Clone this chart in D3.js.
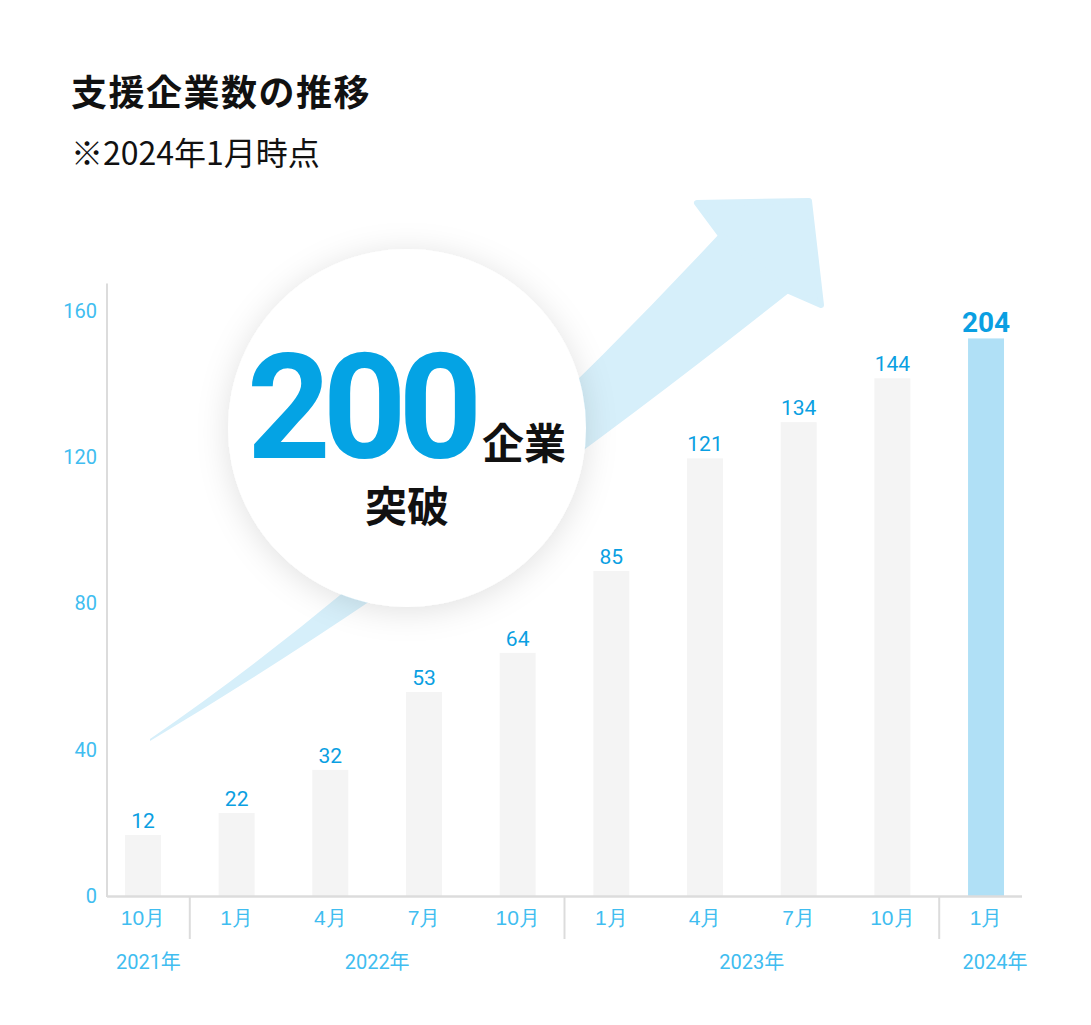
<!DOCTYPE html>
<html lang="ja">
<head>
<meta charset="utf-8">
<script src="https://cdn.jsdelivr.net/npm/d3@7"></script>
<style>
body { margin: 0; background: #fff; }
svg { display: block; font-family: Roboto, "Noto Sans CJK JP", sans-serif; }
</style>
</head>
<body>
<svg></svg>
<script>
// data
var months = ["10月", "1月", "4月", "7月", "10月", "1月", "4月", "7月", "10月", "1月"];
var counts = [12, 22, 32, 53, 64, 85, 121, 134, 144, 204];
// bar lengths as drawn, in axis units (the picture does not draw them to scale)
var barLengths = [16.7, 22.7, 34.5, 55.8, 66.5, 88.9, 119.7, 129.6, 141.6, 152.5];
var yTicks = [0, 40, 80, 120, 160];
var years = ["2021年", "2022年", "2023年", "2024年"];
var yearFirst = [0, 1, 5, 9];   // index of first month of each year

var draw = function() {

	var width = 1091,
		height = 1025,
		left = 107,
		right = 1022,
		bottom = 896,
		top = 311;

	var svg = d3.select("svg")
		.attr("width", width)
		.attr("height", height);

	var defs = svg.append("defs");
	var f = defs.append("filter")
		.attr("id", "shadow")
		.attr("x", "-30%").attr("y", "-30%")
		.attr("width", "160%").attr("height", "160%");
	f.append("feDropShadow")
		.attr("dx", 0).attr("dy", 4)
		.attr("stdDeviation", 16)
		.attr("flood-color", "#000")
		.attr("flood-opacity", 0.12);

	// title
	svg.append("text")
		.attr("x", 71).attr("y", 106)
		.attr("font-family", "'Noto Sans CJK JP'")
		.attr("font-weight", 700)
		.attr("font-size", 36)
		.attr("letter-spacing", 1.5)
		.attr("fill", "#111")
		.text("支援企業数の推移");

	svg.append("text")
		.attr("x", 71).attr("y", 165)
		.attr("font-family", "'Noto Sans CJK JP'")
		.attr("font-size", 32)
		.attr("fill", "#111")
		.text("※2024年1月時点");

	// scales
	var x = d3.scaleBand()
		.domain(d3.range(months.length))
		.range([left, right])
		.paddingInner(0.616)
		.paddingOuter(0.192);

	var y = d3.scaleLinear()
		.domain([0, 160])
		.range([bottom, top]);

	var cx = function(i) { return x(i) + x.bandwidth() / 2; };

	// decorative arrow behind the badge
	var g = svg.append("g").attr("fill", "#d6effa");
	g.append("path")
		.attr("d", "M150,739 Q424,551 720,233 L790,292 Q447,564 150,741 Z");
	g.append("path")
		.attr("d", "M720,234 L697,203 L809,201 L821,305 L789,291 Z")
		.attr("stroke", "#d6effa")
		.attr("stroke-width", 6)
		.attr("stroke-linejoin", "round");

	// badge
	svg.append("circle")
		.attr("cx", 407).attr("cy", 428).attr("r", 179)
		.attr("fill", "#fff")
		.attr("filter", "url(#shadow)");

	svg.append("text")
		.attr("x", 247).attr("y", 458)
		.attr("font-family", "Roboto")
		.attr("font-weight", 700)
		.attr("font-size", 146)
		.attr("letter-spacing", -8)
		.attr("fill", "#04a3e4")
		.text("200");

	svg.append("text")
		.attr("x", 482).attr("y", 459)
		.attr("font-family", "'Noto Sans CJK JP'")
		.attr("font-weight", 700)
		.attr("font-size", 42)
		.attr("fill", "#111")
		.text("企業");

	svg.append("text")
		.attr("x", 407).attr("y", 522)
		.attr("text-anchor", "middle")
		.attr("font-family", "'Noto Sans CJK JP'")
		.attr("font-weight", 700)
		.attr("font-size", 42)
		.attr("fill", "#111")
		.text("突破");

	// bars
	svg.selectAll(".bar")
		.data(barLengths)
		.enter()
		.append("rect")
		.attr("class", "bar")
		.attr("x", function(d, i) { return x(i); })
		.attr("y", function(d) { return y(d); })
		.attr("width", x.bandwidth())
		.attr("height", function(d) { return y(0) - y(d); })
		.attr("fill", function(d, i) { return i == barLengths.length - 1 ? "#b0e0f6" : "#f4f4f4"; });

	// value labels
	svg.selectAll(".val")
		.data(counts)
		.enter()
		.append("text")
		.attr("class", "val")
		.attr("x", function(d, i) { return cx(i); })
		.attr("y", function(d, i) { return y(barLengths[i]) - (i == counts.length - 1 ? 6 : 7); })
		.attr("text-anchor", "middle")
		.attr("font-size", function(d, i) { return i == counts.length - 1 ? 28 : 21; })
		.attr("font-weight", function(d, i) { return i == counts.length - 1 ? 700 : 400; })
		.attr("fill", "#0a9fe2")
		.text(function(d) { return d; });

	// y axis
	var yAxis = svg.append("g")
		.attr("transform", "translate(" + left + ",0)")
		.call(d3.axisLeft(y).tickValues(yTicks).tickSize(0).tickPadding(10));
	yAxis.select(".domain").remove();
	yAxis.selectAll("text")
		.attr("font-family", "Roboto")
		.attr("font-size", 20)
		.attr("fill", "#40bdf0");

	// x axis
	var xAxis = svg.append("g")
		.attr("transform", "translate(0," + bottom + ")")
		.call(d3.axisBottom(x).tickSize(0).tickPadding(14)
			.tickFormat(function(i) { return months[i]; }));
	xAxis.select(".domain").remove();
	xAxis.selectAll("text")
		.attr("font-size", 21)
		.attr("fill", "#40bdf0");

	// axis lines
	svg.append("line")
		.attr("x1", left).attr("x2", left)
		.attr("y1", y(167.5)).attr("y2", bottom + 1)
		.attr("stroke", "#dcdcdc").attr("stroke-width", 2);
	svg.append("line")
		.attr("x1", left).attr("x2", right)
		.attr("y1", bottom + 0.5).attr("y2", bottom + 0.5)
		.attr("stroke", "#dcdcdc").attr("stroke-width", 2.5);

	// year separators and labels
	var step = x.step();
	var bounds = yearFirst.map(function(i) { return i == 0 ? left : cx(i) - step / 2; });
	bounds.push(cx(months.length - 1) + step / 2 + 18);

	svg.selectAll(".sep")
		.data(bounds.slice(1, -1))
		.enter()
		.append("line")
		.attr("class", "sep")
		.attr("x1", function(d) { return d; })
		.attr("x2", function(d) { return d; })
		.attr("y1", bottom)
		.attr("y2", bottom + 43)
		.attr("stroke", "#dcdcdc").attr("stroke-width", 2);

	svg.selectAll(".year")
		.data(years)
		.enter()
		.append("text")
		.attr("class", "year")
		.attr("x", function(d, i) { return (bounds[i] + bounds[i + 1]) / 2; })
		.attr("y", 969)
		.attr("text-anchor", "middle")
		.attr("font-size", 20)
		.attr("fill", "#40bdf0")
		.text(function(d) { return d; });
};

draw();
</script>
</body>
</html>
